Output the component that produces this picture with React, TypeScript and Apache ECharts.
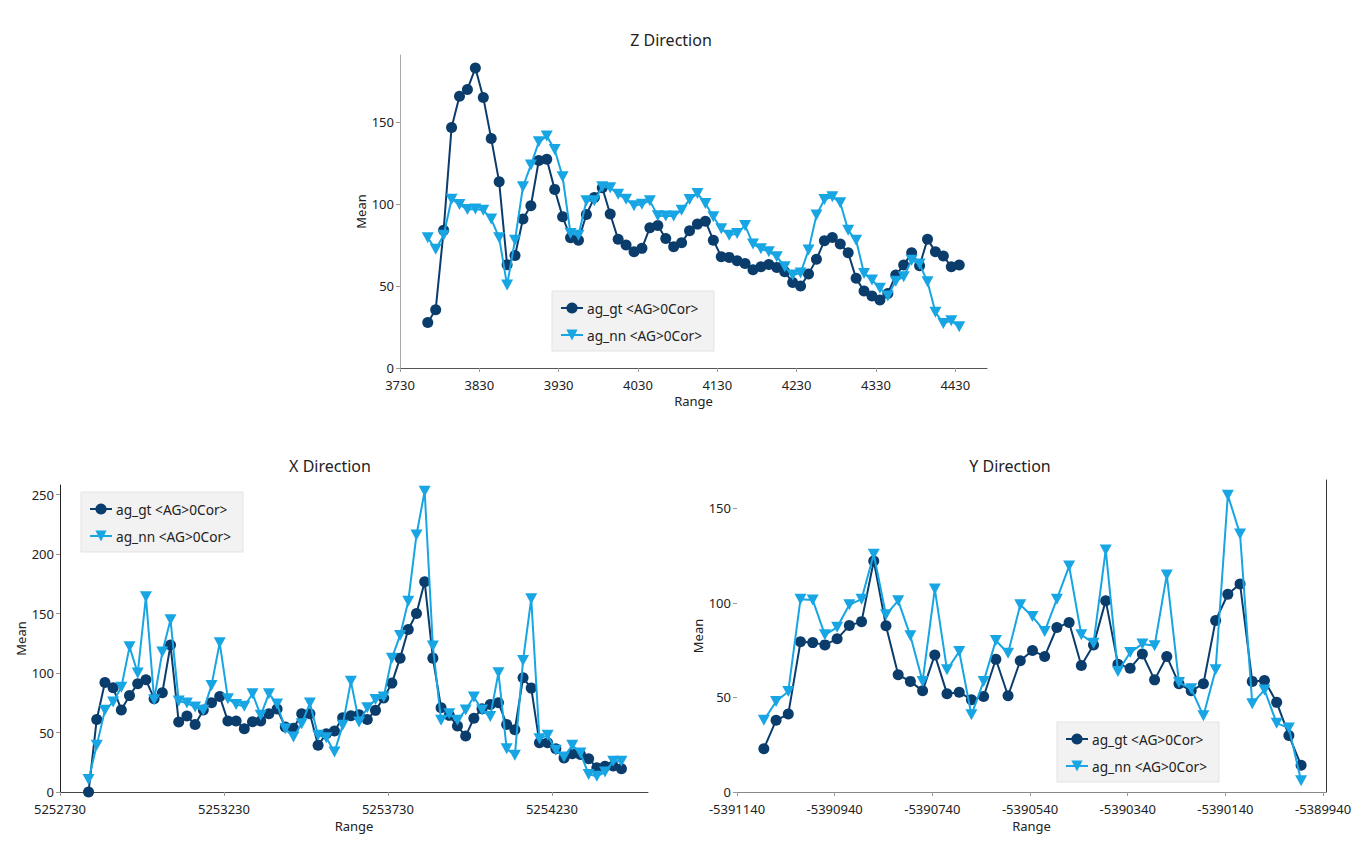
import React, { useEffect, useRef } from "react";
import * as echarts from "echarts";

const GT = "ag_gt <AG>0Cor>";
const NN = "ag_nn <AG>0Cor>";
const FONT = "'Noto Sans', 'DejaVu Sans', sans-serif";
const C_GT = "#0b3d6c";
const C_NN = "#17a5e3";

// ---------- Z Direction ----------
const zRange = [3765, 3775, 3785, 3795, 3805, 3815, 3825, 3835, 3845, 3855, 3865, 3875, 3885, 3895, 3905, 3915, 3925, 3935, 3945, 3955, 3965, 3975, 3985, 3995, 4005, 4015, 4025, 4035, 4045, 4055, 4065, 4075, 4085, 4095, 4105, 4115, 4125, 4135, 4145, 4155, 4165, 4175, 4185, 4195, 4205, 4215, 4225, 4235, 4245, 4255, 4265, 4275, 4285, 4295, 4305, 4315, 4325, 4335, 4345, 4355, 4365, 4375, 4385, 4395, 4405, 4415, 4425, 4435];
const zGt = [27.8, 35.6, 84, 146.7, 165.8, 170, 183, 165, 140, 113.6, 63, 68.7, 90.9, 99, 126.6, 127.4, 109, 92.3, 79.5, 78, 93.7, 104, 110, 94, 78.5, 75, 71, 73, 85.6, 87, 79, 74, 76.4, 83.7, 87.8, 89.6, 78, 67.9, 67.5, 65.4, 63.8, 60, 61.8, 63.2, 61.4, 58.7, 52.2, 50, 57.3, 66.3, 77.6, 79.7, 75.6, 70.3, 54.7, 47, 43.9, 41.5, 45.5, 56.7, 62.8, 70.3, 62.4, 78.5, 71, 68.3, 61.8, 62.8];
const zNn = [79.5, 72.4, 81, 103, 99.8, 96.7, 97, 96.3, 90.9, 79.5, 50.6, 78, 110.6, 123.8, 138, 141.5, 133.3, 116.7, 82, 81, 102, 102, 110.6, 110, 106, 103, 99, 100, 102, 92.9, 92.7, 92.7, 96.3, 102.8, 106.5, 100.4, 92.3, 85, 81, 82, 87, 75.6, 72.8, 71, 67.9, 61.8, 56.7, 58, 72, 93.3, 102.8, 104.5, 100.8, 84, 78, 57.7, 53.7, 48.6, 44, 53, 55.7, 65.8, 63.4, 52.6, 34, 27.2, 28.9, 25.2];
const zXTicks = [3730, 3830, 3930, 4030, 4130, 4230, 4330, 4430];
const zYTicks = [0, 50, 100, 150];

// ---------- X Direction ----------
const xRange = [5252817, 5252842, 5252867, 5252892, 5252917, 5252942, 5252967, 5252992, 5253017, 5253042, 5253067, 5253092, 5253117, 5253142, 5253167, 5253192, 5253217, 5253242, 5253267, 5253292, 5253317, 5253342, 5253367, 5253392, 5253417, 5253442, 5253467, 5253492, 5253517, 5253542, 5253567, 5253592, 5253617, 5253642, 5253667, 5253692, 5253717, 5253742, 5253767, 5253792, 5253817, 5253842, 5253867, 5253892, 5253917, 5253942, 5253967, 5253992, 5254017, 5254042, 5254067, 5254092, 5254117, 5254142, 5254167, 5254192, 5254217, 5254242, 5254267, 5254292, 5254317, 5254342, 5254367, 5254392, 5254417, 5254442];
const xGt = [0, 61, 92, 87.6, 69, 81, 91, 94.3, 78.4, 83.4, 123.5, 58.8, 63.8, 56.8, 69, 75, 80.3, 59.6, 59.6, 53.2, 59, 59.6, 65.8, 69.7, 54.6, 53.5, 65.8, 65.8, 39.2, 49, 51.2, 62.4, 64, 65, 61, 68.6, 79, 91.5, 112.5, 136.6, 150, 176.6, 112.5, 70.8, 64.4, 55.4, 47, 62, 70, 73.6, 75, 56.8, 52.3, 96, 87.3, 41.4, 41.4, 36.4, 28.6, 32.2, 31.6, 28, 20.4, 21.6, 21.8, 19.6];
const xNn = [10.4, 39.2, 68.6, 75.6, 88, 122, 100, 164, 77.5, 117.6, 144.7, 76.4, 74.7, 71.4, 68.6, 89.6, 125.4, 78.4, 73.6, 72, 82.6, 64.4, 82.6, 74, 53.2, 46.2, 57.4, 74.7, 47.6, 45.6, 33.6, 56, 93, 58.8, 70.8, 77.8, 79.8, 112.5, 131.6, 160.4, 216, 252.8, 122.6, 60.2, 65.8, 60.2, 69, 79.8, 69, 63.5, 100.2, 36.4, 30.8, 110.6, 162.4, 44.8, 47.6, 35, 29.4, 39.2, 32.8, 14.8, 13.2, 16.8, 25.8, 25.8];
const xXTicks = [5252730, 5253230, 5253730, 5254230];
const xYTicks = [0, 50, 100, 150, 200, 250];

// ---------- Y Direction ----------
const yRange = [-5391085, -5391060, -5391035, -5391010, -5390985, -5390960, -5390935, -5390910, -5390885, -5390860, -5390835, -5390810, -5390785, -5390760, -5390735, -5390710, -5390685, -5390660, -5390635, -5390610, -5390585, -5390560, -5390535, -5390510, -5390485, -5390460, -5390435, -5390410, -5390385, -5390360, -5390335, -5390310, -5390285, -5390260, -5390235, -5390210, -5390185, -5390160, -5390135, -5390110, -5390085, -5390060, -5390035, -5390010, -5389985];
const yGt = [22.9, 37.9, 41.2, 79.4, 79, 77.8, 81, 88, 90.1, 122.2, 87.9, 62, 58.5, 53.5, 72.5, 52, 52.8, 48.8, 50.5, 70.2, 50.9, 69.4, 74.8, 71.7, 87, 89.6, 66.9, 77.8, 101.2, 67.6, 65.5, 73, 59.3, 71.7, 57.2, 53.5, 57.2, 90.7, 104.6, 110, 58.5, 59, 47.4, 29.9, 14.1];
const yNn = [37.9, 47.9, 53.2, 102, 101.6, 83.1, 87.1, 99, 102, 125.7, 93.7, 101.2, 82.6, 58.5, 107.4, 64.6, 74.3, 40.8, 58.5, 80.1, 73.4, 99, 92.8, 84.9, 102, 119.5, 83.1, 78.7, 128, 63.7, 73.8, 78.3, 77.3, 114.8, 57.9, 54.6, 40.3, 64.6, 157, 136.4, 46.7, 54, 36.4, 33.8, 6];
const yXTicks = [-5391140, -5390940, -5390740, -5390540, -5390340, -5390140, -5389940];
const yYTicks = [0, 50, 100, 150];

const pairs = (xs: number[], ys: number[]) => xs.map((x, i) => [x, ys[i]]);

const labelStyle = { color: "#222", fontSize: 13, fontFamily: FONT, lineHeight: 14 };
const nameStyle = { color: "#222", fontSize: 13, fontFamily: FONT, lineHeight: 14 };

function xAxisCfg(gridIndex: number, min: number, max: number, ticks: number[], lineColor: string, nameGap: number) {
  return {
    type: "value",
    gridIndex,
    min,
    max,
    name: "Range",
    nameLocation: "middle",
    nameGap,
    nameTextStyle: nameStyle,
    axisLine: { show: true, onZero: false, lineStyle: { color: lineColor, width: 1 } },
    axisTick: { show: true, length: 4, customValues: ticks, lineStyle: { color: "#999" } },
    axisLabel: { ...labelStyle, margin: 10, customValues: ticks, formatter: (v: number) => String(v) },
    splitLine: { show: false },
  };
}

function yAxisCfg(gridIndex: number, min: number, max: number, ticks: number[], lineColor: string | null, nameGap: number) {
  return {
    type: "value",
    gridIndex,
    min,
    max,
    name: "Mean",
    nameLocation: "middle",
    nameGap,
    nameTextStyle: nameStyle,
    axisLine: { show: lineColor !== null, onZero: false, lineStyle: { color: lineColor || "#999", width: 1 } },
    axisTick: { show: true, length: 4, customValues: ticks, lineStyle: { color: "#999" } },
    axisLabel: { ...labelStyle, margin: 6, customValues: ticks, formatter: (v: number) => String(v) },
    splitLine: { show: false },
  };
}

function seriesPair(idx: number, xs: number[], gt: number[], nn: number[]) {
  return [
    {
      name: GT,
      type: "line",
      xAxisIndex: idx,
      yAxisIndex: idx,
      data: pairs(xs, gt),
      symbol: "circle",
      symbolSize: 11,
      showAllSymbol: true,
      color: C_GT,
      lineStyle: { color: C_GT, width: 2 },
      itemStyle: { color: C_GT },
      z: 2,
    },
    {
      name: NN,
      type: "line",
      xAxisIndex: idx,
      yAxisIndex: idx,
      data: pairs(xs, nn),
      symbol: "triangle",
      symbolSize: [12, 11],
      symbolRotate: 180,
      showAllSymbol: true,
      color: C_NN,
      lineStyle: { color: C_NN, width: 2 },
      itemStyle: { color: C_NN },
      z: 3,
    },
  ];
}

function legendCfg(left: number, top: number) {
  return {
    data: [GT, NN],
    orient: "vertical",
    left,
    top,
    padding: [10, 12, 9, 8],
    itemGap: 13,
    itemWidth: 22,
    itemHeight: 14,
    backgroundColor: "#f2f2f2",
    borderColor: "#e3e3e3",
    borderWidth: 1,
    borderRadius: 0,
    selectedMode: false,
    textStyle: { color: "#222", fontSize: 13.7, fontFamily: FONT, padding: [0, 0, 0, -1] },
  };
}

function titleText(x: number, y: number, text: string) {
  return {
    type: "text",
    x,
    y,
    silent: true,
    style: { text, fill: "#222", font: `16px ${FONT}`, align: "center", verticalAlign: "middle" },
  };
}

export default function App() {
  const ref = useRef<HTMLDivElement>(null);
  useEffect(() => {
    if (!ref.current) return;
    const chart = echarts.init(ref.current, undefined, { renderer: "svg" });
    const option = {
      animation: false,
      backgroundColor: "#ffffff",
      textStyle: { fontFamily: FONT },
      grid: [
        { left: 400, top: 55, width: 587, height: 313, containLabel: false },
        { left: 60, top: 485, width: 588, height: 307, containLabel: false },
        { left: 737, top: 480, width: 589, height: 312, containLabel: false },
      ],
      xAxis: [
        xAxisCfg(0, 3730, 4470, zXTicks, "#555", 26),
        xAxisCfg(1, 5252730, 5254523, xXTicks, "#444", 27),
        xAxisCfg(2, -5391140, -5389934, yXTicks, "#888", 27),
      ],
      yAxis: [
        yAxisCfg(0, 0, 191, zYTicks, "#aaa", 28),
        yAxisCfg(1, 0, 258, xYTicks, "#222", 27),
        yAxisCfg(2, 0, 165, yYTicks, null, 27),
        {
          type: "value",
          gridIndex: 2,
          min: 0,
          max: 165,
          position: "right",
          axisLine: { show: true, onZero: false, lineStyle: { color: "#333", width: 1 } },
          axisTick: { show: false },
          axisLabel: { show: false },
          splitLine: { show: false },
        },
      ],
      legend: [legendCfg(552, 291), legendCfg(81, 492), legendCfg(1057, 722)],
      series: [
        ...seriesPair(0, zRange, zGt, zNn),
        ...seriesPair(1, xRange, xGt, xNn),
        ...seriesPair(2, yRange, yGt, yNn),
      ],
      graphic: [
        titleText(671, 40, "Z Direction"),
        titleText(330, 466, "X Direction"),
        titleText(1010, 466, "Y Direction"),
      ],
    };
    chart.setOption(option as any);
    return () => chart.dispose();
  }, []);
  return (
    <div
      ref={ref}
      style={{ position: "fixed", left: 0, top: 0, width: 1355, height: 850, background: "#fff" }}
    />
  );
}
